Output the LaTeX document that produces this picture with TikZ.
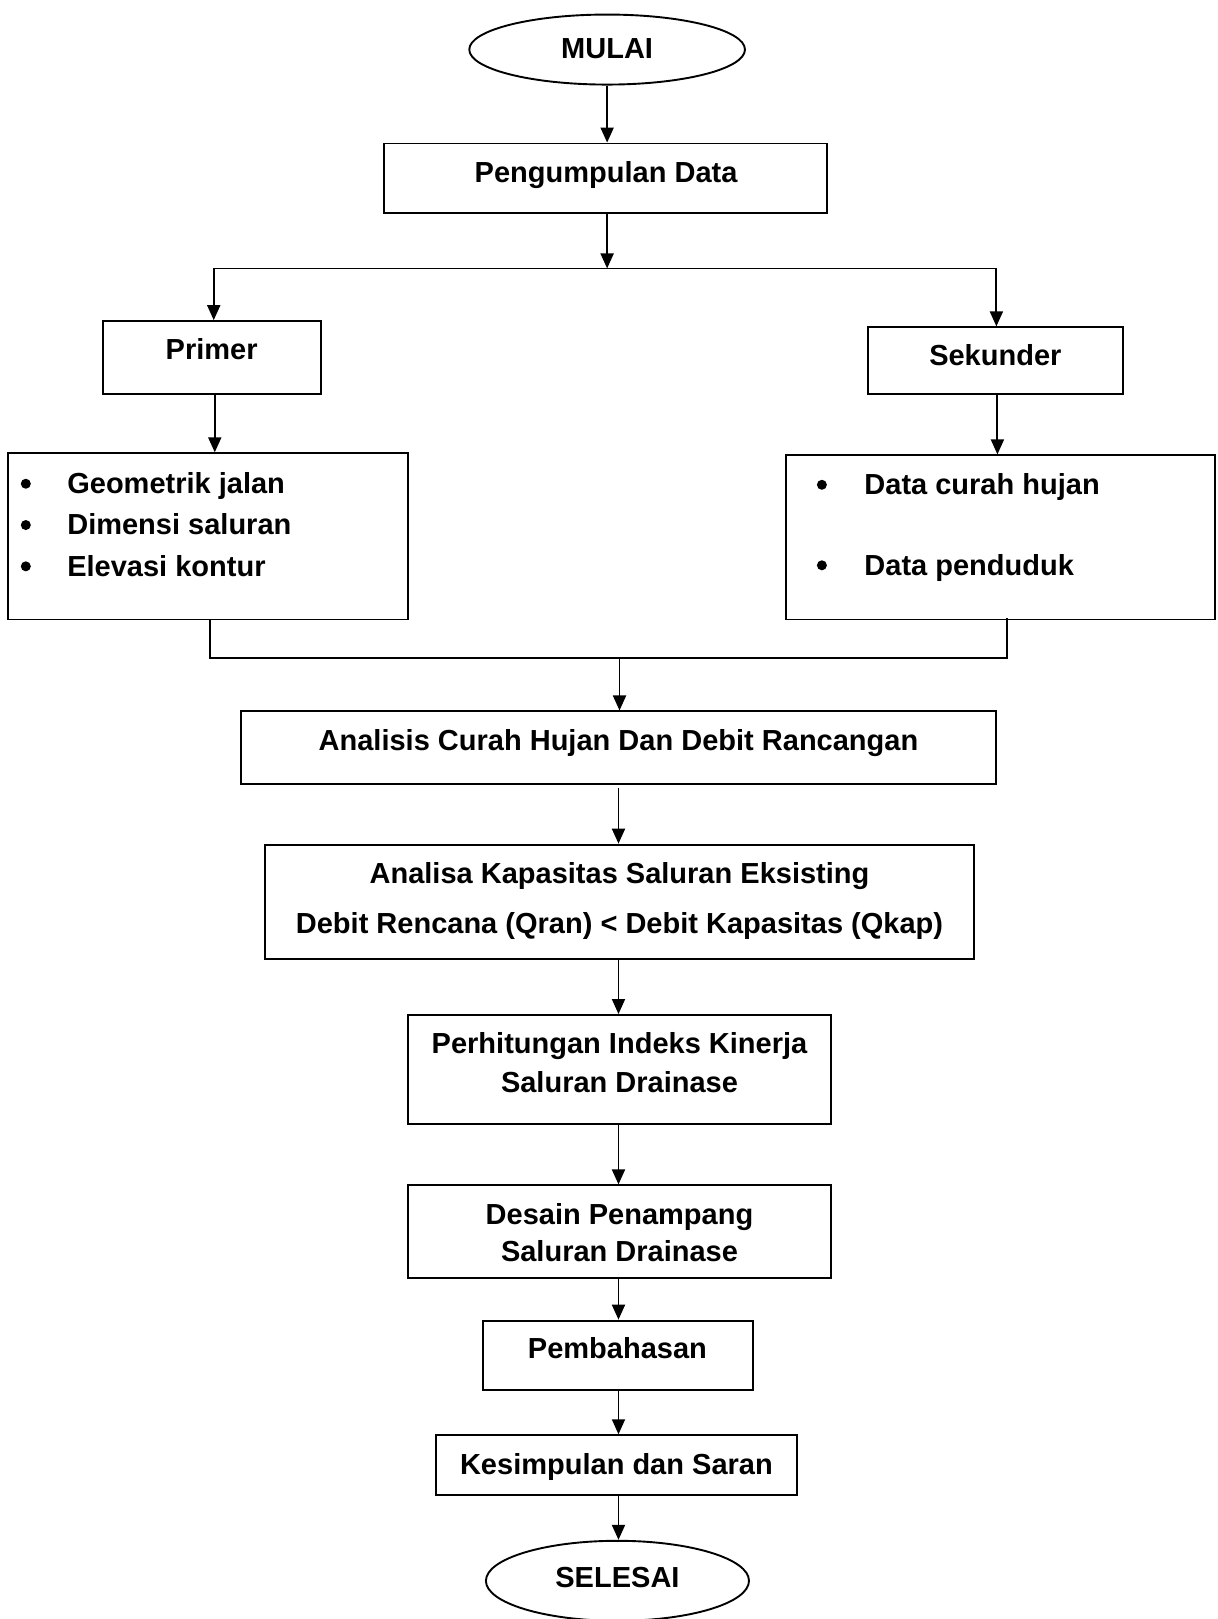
\documentclass[tikz,border=0pt]{standalone}
\usepackage{fontspec}
\setmainfont{Liberation Sans}
\usetikzlibrary{arrows.meta,shapes.geometric,fit}
\begin{document}
\begin{tikzpicture}[x=1.0322pt,y=-1.0322pt,
  box/.style={draw,line width=1.9pt,inner sep=0pt},
  oval/.style={ellipse,draw,line width=1.9pt,inner sep=0pt},
  txt/.style={font=\fontsize{29}{34}\selectfont\bfseries,inner sep=0pt,anchor=base},
  itm/.style={font=\fontsize{29}{34}\selectfont\bfseries,inner sep=0pt,anchor=base west},
  bul/.style={circle,fill,inner sep=0pt,minimum size=10pt},
  arr/.style={line width=1.9pt,-{Triangle[length=15pt,width=13pt]}},
  ln/.style={line width=1.9pt}]
\useasboundingbox (0,0) rectangle (1179,1568);
% shapes
\node[oval,minimum width=275.6pt,minimum height=70pt] (mulai) at (588,48) {};
\node[box,fit={(372,139)(801,206)}] (peng) {};
\node[box,fit={(100,311)(311,382)}] (primer) {};
\node[box,fit={(841,317)(1088,382)}] (sekunder) {};
\node[box,fit={(8,439)(395,600)}] (listL) {};
\node[box,fit={(761,441)(1177,600)}] (listR) {};
\node[box,fit={(233,689)(965,759)}] (analisis) {};
\node[box,fit={(257,818)(943,929)}] (analisa) {};
\node[box,fit={(395,983)(805,1089)}] (hitung) {};
\node[box,fit={(395,1148)(805,1238)}] (desain) {};
\node[box,fit={(468,1279)(729,1346)}] (bahas) {};
\node[box,fit={(422,1390)(772,1448)}] (simpul) {};
\node[oval,minimum width=263pt,minimum height=80pt] (selesai) at (598,1531) {};
% texts
\node[txt] (tmulai) at (588,57) {MULAI};
\node[txt] (tpeng) at (587,177) {Pengumpulan Data};
\node[txt] (tprimer) at (205,348) {Primer};
\node[txt] (tsekunder) at (964,354) {Sekunder};
\node[bul] (b1) at (25,468.5) {};
\node[bul] (b2) at (25,508.5) {};
\node[bul] (b3) at (25,548.5) {};
\node[itm] (i1) at (65,478) {Geometrik jalan};
\node[itm] (i2) at (65,518) {Dimensi saluran};
\node[itm] (i3) at (65,558) {Elevasi kontur};
\node[bul] (b4) at (796,469.5) {};
\node[bul] (b5) at (796,547.5) {};
\node[itm] (i4) at (837,479) {Data curah hujan};
\node[itm] (i5) at (837,557) {Data penduduk};
\node[txt] (tanalisis) at (599,727) {Analisis Curah Hujan Dan Debit Rancangan};
\node[txt] (tanalisa1) at (600,856) {Analisa Kapasitas Saluran Eksisting};
\node[txt] (tanalisa2) at (600,904) {Debit Rencana (Qran) < Debit Kapasitas (Qkap)};
\node[txt] (thitung1) at (600,1020) {Perhitungan Indeks Kinerja};
\node[txt] (thitung2) at (600,1058) {Saluran Drainase};
\node[txt] (tdesain1) at (600,1186) {Desain Penampang};
\node[txt] (tdesain2) at (600,1222) {Saluran Drainase};
\node[txt] (tbahas) at (598,1316) {Pembahasan};
\node[txt] (tsimpul) at (597,1428) {Kesimpulan dan Saran};
\node[txt] (tselesai) at (598,1537) {SELESAI};
% connectors
\coordinate (split) at (588,260);
\coordinate (splitL) at (207,260);
\coordinate (splitR) at (965,260);
\draw[arr] (mulai.south) -- (mulai.south |- peng.north);
\draw[arr] (split |- peng.south) -- (split);
\draw[ln] (splitL) -- (splitR);
\draw[arr] (splitL) -- (splitL |- primer.north);
\draw[arr] (splitR) -- (splitR |- sekunder.north);
\coordinate (pL) at (208,382);
\coordinate (pR) at (966,382);
\draw[arr] (pL |- primer.south) -- (pL |- listL.north);
\draw[arr] (pR |- sekunder.south) -- (pR |- listR.north);
\coordinate (jL) at (203,637);
\coordinate (jR) at (975,637);
\coordinate (jM) at (600,637);
\draw[ln] (jL |- listL.south) -- (jL) -- (jR) -- ([yshift=2pt]jR |- listR.south);
\draw[arr] (jM) -- (jM |- analisis.north);
\coordinate (cx) at (599,0);
\draw[arr] ([yshift=-3pt]cx |- analisis.south) -- (cx |- analisa.north);
\draw[arr] (cx |- analisa.south) -- (cx |- hitung.north);
\draw[arr] (cx |- hitung.south) -- (cx |- desain.north);
\draw[arr] (cx |- desain.south) -- (cx |- bahas.north);
\draw[arr] (cx |- bahas.south) -- (cx |- simpul.north);
\draw[arr] (cx |- simpul.south) -- (cx |- selesai.north);
\end{tikzpicture}
\end{document}
